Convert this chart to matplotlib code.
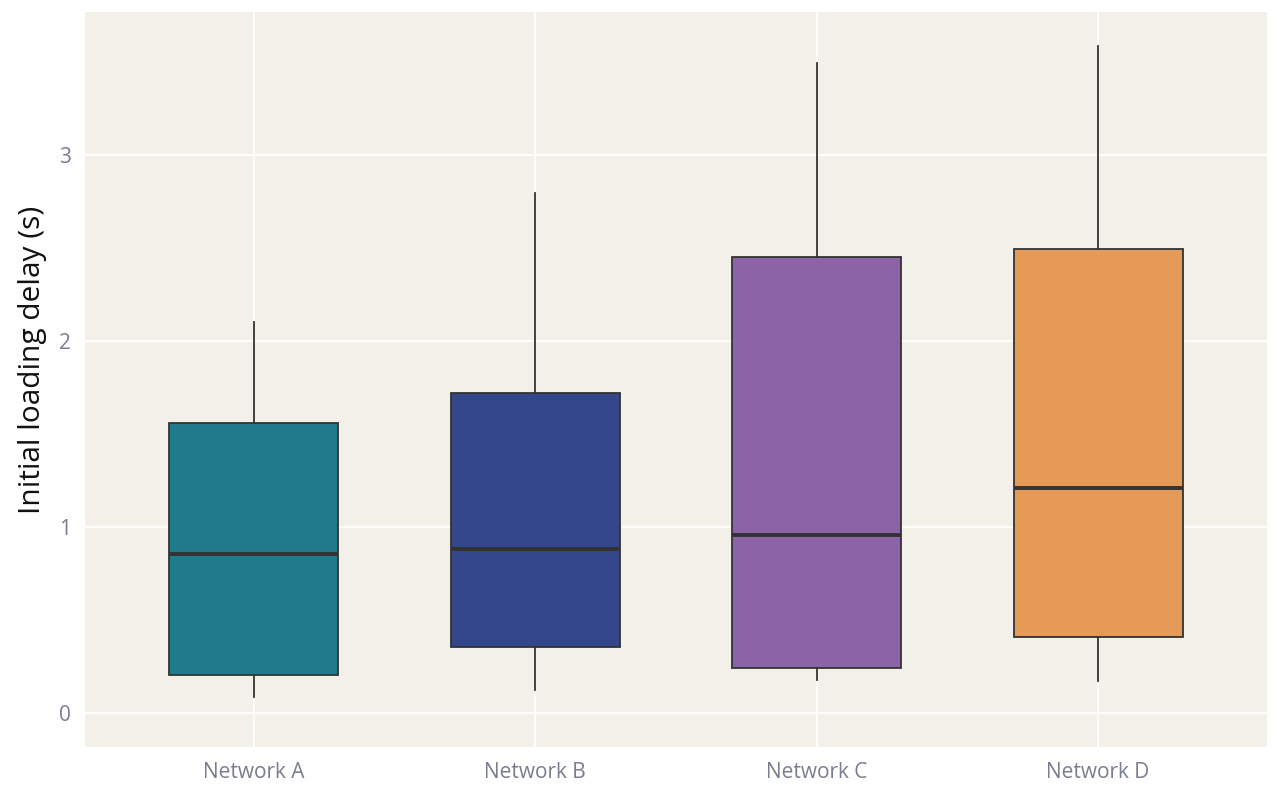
import matplotlib
matplotlib.use('Agg')
import matplotlib.pyplot as plt

# Box summaries (seconds)
NETWORKS = ['Network A', 'Network B', 'Network C', 'Network D']
WHISKER_LOW = [0.086, 0.124, 0.177, 0.172]
Q1 = [0.204, 0.355, 0.242, 0.409]
MEDIAN = [0.855, 0.882, 0.957, 1.210]
Q3 = [1.559, 1.720, 2.452, 2.495]
WHISKER_HIGH = [2.102, 2.796, 3.495, 3.586]
COLORS = ['#1F7A8C', '#34478A', '#8C63A6', '#E69A57']

plt.rcParams['font.family'] = ['Open Sans', 'DejaVu Sans']

fig = plt.figure(figsize=(12.8, 8), dpi=100)
ax = fig.add_axes([0.0664, 0.0662, 0.9234, 0.9188])
ax.set_facecolor('#F3F0EA')

stats = []
for i, name in enumerate(NETWORKS):
    stats.append({
        'label': name,
        'whislo': WHISKER_LOW[i],
        'q1': Q1[i],
        'med': MEDIAN[i],
        'q3': Q3[i],
        'whishi': WHISKER_HIGH[i],
        'fliers': [],
    })

edge = '#333333'
bp = ax.bxp(stats, positions=range(len(NETWORKS)), widths=0.6,
            patch_artist=True, showfliers=False, showcaps=False,
            boxprops=dict(edgecolor=edge, linewidth=1.3),
            medianprops=dict(color=edge, linewidth=2.8),
            whiskerprops=dict(color=edge, linewidth=1.3))
for patch, c in zip(bp['boxes'], COLORS):
    patch.set_facecolor(c)
for artist in bp['boxes'] + bp['medians'] + bp['whiskers']:
    artist.set_zorder(3)

ax.set_xlim(-0.6, 3.6)
ax.set_ylim(-0.183, 3.77)
ax.set_yticks([0, 1, 2, 3])
ax.set_xticks(range(len(NETWORKS)))
ax.set_xticklabels(NETWORKS)

ax.grid(True, color='white', linewidth=1.3, zorder=0)
ax.set_axisbelow(True)
for s in ax.spines.values():
    s.set_visible(False)
ax.tick_params(length=0, labelsize=15, colors='#7A7D8E')
ax.tick_params(axis='x', pad=11)
ax.tick_params(axis='y', pad=10)

ax.set_ylabel('Initial loading delay (s)', fontsize=21.5, color='#111111')
ax.yaxis.set_label_coords(-0.032, 0.527)

fig.savefig('out.png', dpi=100, facecolor='white')
